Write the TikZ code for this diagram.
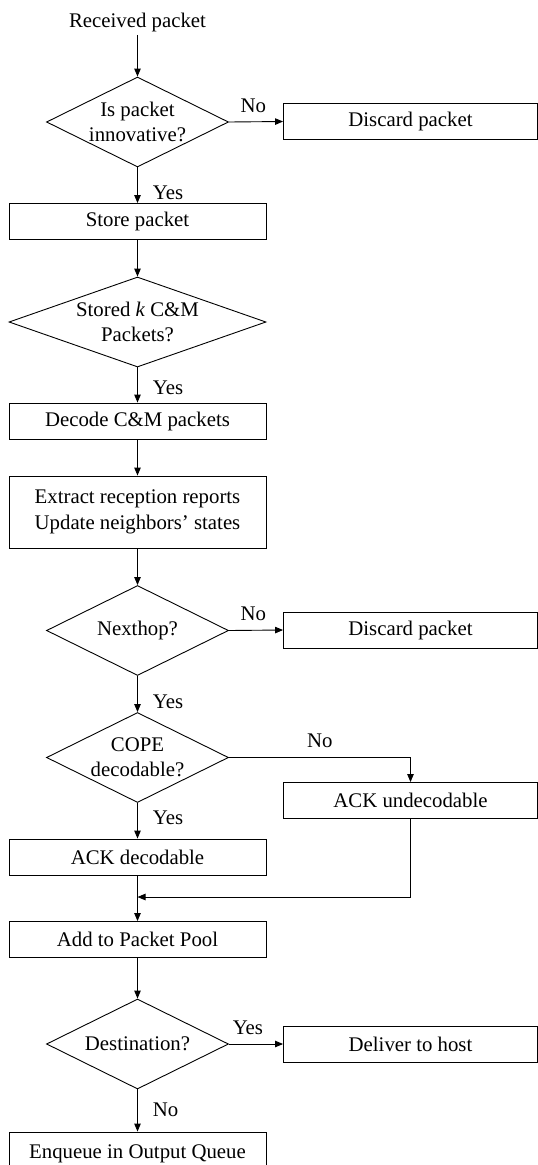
\documentclass[tikz,border=0pt]{standalone}
\usepackage{fontspec}
\setmainfont{Liberation Serif}
\usetikzlibrary{shapes.geometric,arrows.meta}
\begin{document}
\begin{tikzpicture}[x=1pt,y=1pt,
  every node/.style={font=\fontsize{20.8}{25.5}\selectfont},
  box/.style={draw, line width=0.9pt, rectangle, minimum width=257pt, minimum height=36pt, inner sep=0pt},
  rbox/.style={box, minimum width=254pt},
  dia/.style={draw, line width=0.9pt, diamond, minimum width=182pt, minimum height=90pt, inner sep=0pt},
  arr/.style={line width=0.9pt, -{Triangle[length=8pt,width=6.5pt]}},
  lbl/.style={inner sep=0pt}]
\useasboundingbox (0,0) rectangle (538,-1165);
\node (recv) at (137.5,-22) {Received packet};
\node[dia, label={[align=center]center:{Is packet\\innovative?}}] (d1) at (137.5,-122) {};
\node[rbox] (disc1) at (410.5,-121.5) {Discard packet};
\node[box] (store) at (137.5,-221.5) {Store packet};
\node[dia, minimum width=257pt, label={[align=center]center:{Stored \textit{k} C\&M\\Packets?}}] (d2) at (137.5,-322) {};
\node[box] (decode) at (137.5,-421) {Decode C\&M packets};
\node[box, minimum height=72pt, align=center] (extract) at (137.5,-512) {Extract reception reports\\Update neighbors’ states};
\node[dia, label={[align=center]center:{Nexthop?}}] (d3) at (137.5,-630.5) {};
\node[rbox] (disc2) at (410.5,-630) {Discard packet};
\node[dia, label={[align=center]center:{COPE\\decodable?}}] (d4) at (137.5,-757.5) {};
\node[rbox] (ackun) at (410.5,-800.5) {ACK undecodable};
\node[box] (ackd) at (137.5,-857) {ACK decodable};
\coordinate (mg) at (137.5,-897);
\node[box] (add) at (137.5,-939.5) {Add to Packet Pool};
\node[dia, label={[align=center]center:{Destination?}}] (d5) at (137.5,-1044) {};
\node[rbox] (deliver) at (410.5,-1044) {Deliver to host};
\node[box, minimum height=44pt] (enq) at (137.5,-1154) {\raisebox{4pt}{Enqueue in Output Queue}};

\draw[arr] (recv.south) -- (d1.north);
\draw[arr] (d1.east) -- node[lbl, above=9pt, pos=0.45]{No} (disc1.west);
\draw[arr] (d1.south) -- node[lbl, right=15pt, pos=0.7]{Yes} (store.north);
\draw[arr] (store.south) -- (d2.north);
\draw[arr] (d2.south) -- node[lbl, right=15pt, pos=0.58]{Yes} (decode.north);
\draw[arr] (decode.south) -- (extract.north);
\draw[arr] (extract.south) -- (d3.north);
\draw[arr] (d3.east) -- node[lbl, above=9pt, pos=0.45]{No} (disc2.west);
\draw[arr] (d3.south) -- node[lbl, right=15pt, pos=0.72]{Yes} (d4.north);
\draw[arr] (d4.east) -| node[lbl, above=9pt, pos=0.25]{No} (ackun.north);
\draw[arr] (d4.south) -- node[lbl, right=15pt, pos=0.42]{Yes} (ackd.north);
\draw[arr] (ackd.south) -- (add.north);
\draw[arr] (ackun.south) |- (mg);
\draw[arr] (add.south) -- (d5.north);
\draw[arr] (d5.east) -- node[lbl, above=9pt, pos=0.35]{Yes} (deliver.west);
\draw[arr] (d5.south) -- node[lbl, right=15pt, pos=0.49]{No} (enq.north);
\end{tikzpicture}
\end{document}
